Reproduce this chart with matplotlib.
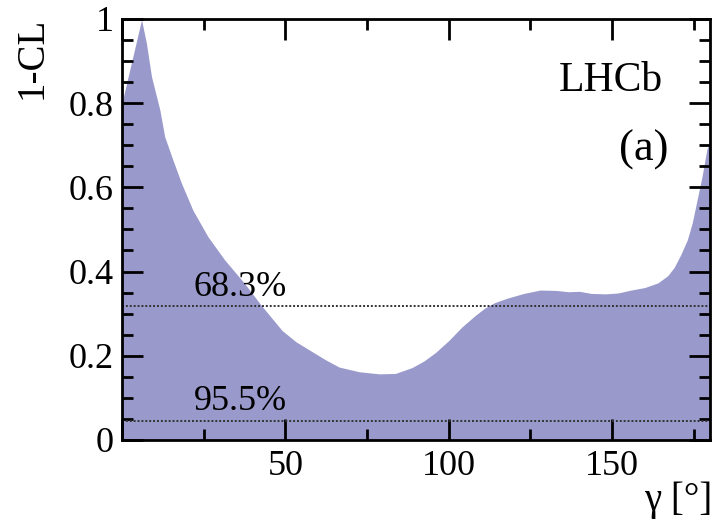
import matplotlib
matplotlib.use("Agg")
import matplotlib.pyplot as plt
from matplotlib.ticker import MultipleLocator, FuncFormatter

# --- data (gamma in degrees, 1-CL) ---
gamma = [0, 6.0, 7.5, 9.05, 11.6, 13.1, 15.6, 18.2, 21.7, 26.3, 31.4, 37.5,
         42.6, 49, 53.3, 57.3, 62.4, 66.5, 72.6, 78.7, 83.7, 88.8, 92.5, 96,
         100, 104, 108, 111, 114, 118, 123, 128, 133, 136.6, 140, 143.6, 148,
         151.8, 155.8, 160, 164, 167, 169, 171, 173, 174.5, 176, 177.5, 179, 180]
one_minus_cl = [0.80, 0.998, 0.942, 0.863, 0.784, 0.72, 0.665, 0.61, 0.546,
                0.483, 0.428, 0.372, 0.32, 0.26, 0.233, 0.214, 0.19, 0.173,
                0.162, 0.157, 0.158, 0.172, 0.188, 0.208, 0.236, 0.268, 0.295,
                0.313, 0.326, 0.337, 0.348, 0.356, 0.355, 0.352, 0.353, 0.348,
                0.347, 0.349, 0.356, 0.362, 0.373, 0.39, 0.41, 0.44, 0.475,
                0.515, 0.57, 0.625, 0.69, 0.71]

cl_levels = [0.317, 0.045]
cl_labels = ["68.3%", "95.5%"]

plt.rcParams['font.family'] = ['Liberation Serif', 'DejaVu Serif']

fig = plt.figure(figsize=(7.13, 5.25), dpi=100)
ax = fig.add_axes([0.171, 0.162, 0.825, 0.802])

ax.fill_between(gamma, 0, one_minus_cl, color='#9999cc', linewidth=0)

for lvl, lab in zip(cl_levels, cl_labels):
    ax.axhline(lvl, color='#333333', linestyle=(0, (1, 1)), linewidth=1.4)
    ax.text(22, lvl + 0.006, lab, fontsize=26, ha='left', va='bottom')

ax.set_xlim(0, 180)
ax.set_ylim(0, 1)

ax.xaxis.set_major_locator(MultipleLocator(50))
ax.xaxis.set_minor_locator(MultipleLocator(25))
ax.yaxis.set_major_locator(MultipleLocator(0.2))
ax.yaxis.set_minor_locator(MultipleLocator(0.05))
ax.yaxis.set_major_formatter(FuncFormatter(lambda v, p: f"{v:g}"))
ax.xaxis.set_major_formatter(FuncFormatter(lambda v, p: "" if v == 0 else f"{v:g}"))

ax.tick_params(which='both', direction='in', top=True, right=True, width=2,
               labelsize=26)
ax.tick_params(axis='x', which='major', length=15, pad=7)
ax.tick_params(axis='y', which='major', length=15, pad=6)
ax.tick_params(which='minor', length=8)
for s in ax.spines.values():
    s.set_linewidth(2)

ax.text(0.92, 0.853, "LHCb", transform=ax.transAxes, fontsize=30,
        ha='right', va='center')
ax.text(0.929, 0.69, "(a)", transform=ax.transAxes, fontsize=32,
        ha='right', va='center')

fig.text(0.045, 0.968, "1-CL", rotation=90, fontsize=28, ha='center', va='top')
fig.text(0.999, 0.082, "γ [°]", fontsize=28, ha='right', va='top')

fig.savefig("out.png", dpi=100)
